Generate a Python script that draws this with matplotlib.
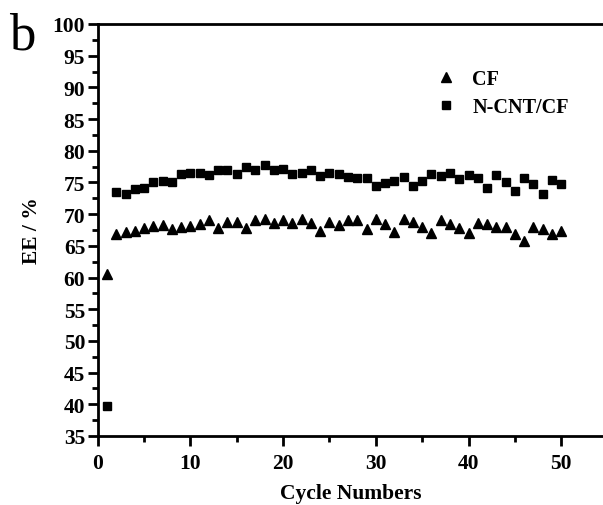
import matplotlib
matplotlib.use("Agg")
import matplotlib.pyplot as plt
from matplotlib.ticker import MultipleLocator

cycles = list(range(1, 51))
cf = [60.6, 66.9, 67.2, 67.4, 67.8, 68.1, 68.3, 67.7, 68.0, 68.2,
      68.5, 69.0, 67.8, 68.8, 68.8, 67.8, 69.0, 69.3, 68.6, 69.1,
      68.6, 69.2, 68.6, 67.4, 68.7, 68.3, 69.1, 69.0, 67.7, 69.2,
      68.5, 67.2, 69.2, 68.8, 67.9, 67.0, 69.0, 68.5, 67.8, 67.0,
      68.6, 68.5, 67.9, 67.9, 66.9, 65.7, 67.9, 67.7, 66.9, 67.4]
ncnt = [39.7, 73.45, 73.2, 73.9, 74.1, 75.0, 75.3, 75.1, 76.3, 76.5,
        76.5, 76.2, 76.9, 76.9, 76.3, 77.4, 76.9, 77.8, 76.9, 77.2,
        76.3, 76.5, 77.0, 76.0, 76.5, 76.4, 75.8, 75.7, 75.7, 74.5,
        74.9, 75.3, 75.8, 74.5, 75.2, 76.3, 76.0, 76.5, 75.6, 76.2,
        75.7, 74.2, 76.2, 75.0, 73.6, 75.7, 74.7, 73.2, 75.4, 74.7]
labels = ["CF", "N-CNT/CF"]

serif = ["Liberation Serif", "DejaVu Serif"]
plt.rcParams['font.family'] = serif

fig = plt.figure(figsize=(6.03, 5.06), dpi=100)
ax = fig.add_axes([0.162, 0.1364, 0.838, 0.8142])

ax.plot(cycles, cf, linestyle='none', marker='^', ms=7, color='black', label=labels[0])
ax.plot(cycles, ncnt, linestyle='none', marker='s', ms=6, color='black', label=labels[1])

ax.set_xlim(0, 54.5)
ax.set_ylim(35, 100)
ax.xaxis.set_major_locator(MultipleLocator(10))
ax.xaxis.set_minor_locator(MultipleLocator(5))
ax.yaxis.set_major_locator(MultipleLocator(5))
ax.yaxis.set_minor_locator(MultipleLocator(2.5))
ax.tick_params(which='major', direction='out', length=7, width=2, labelsize=15.5)
ax.tick_params(axis='x', which='major', pad=5)
ax.tick_params(axis='y', which='major', pad=2)
ax.tick_params(which='minor', direction='out', length=4, width=2)
for lab in ax.get_xticklabels() + ax.get_yticklabels():
    lab.set_fontweight('bold')

for side in ['left', 'bottom', 'top']:
    ax.spines[side].set_linewidth(2)
ax.spines['right'].set_visible(False)

ax.set_xlabel("Cycle Numbers", fontsize=15.5, fontweight='bold', labelpad=7.5)
ax.set_ylabel("EE / %", fontsize=15.5, fontweight='bold', labelpad=8)

leg = ax.legend(loc='upper left', bbox_to_anchor=(0.63, 0.935), frameon=False,
                prop={'family': serif, 'weight': 'bold', 'size': 14.5},
                handletextpad=0.7, labelspacing=0.4, handlelength=1.2)

fig.text(0.015, 0.975, "b", fontsize=38, va='top', ha='left')

fig.savefig("out.png", dpi=100)
